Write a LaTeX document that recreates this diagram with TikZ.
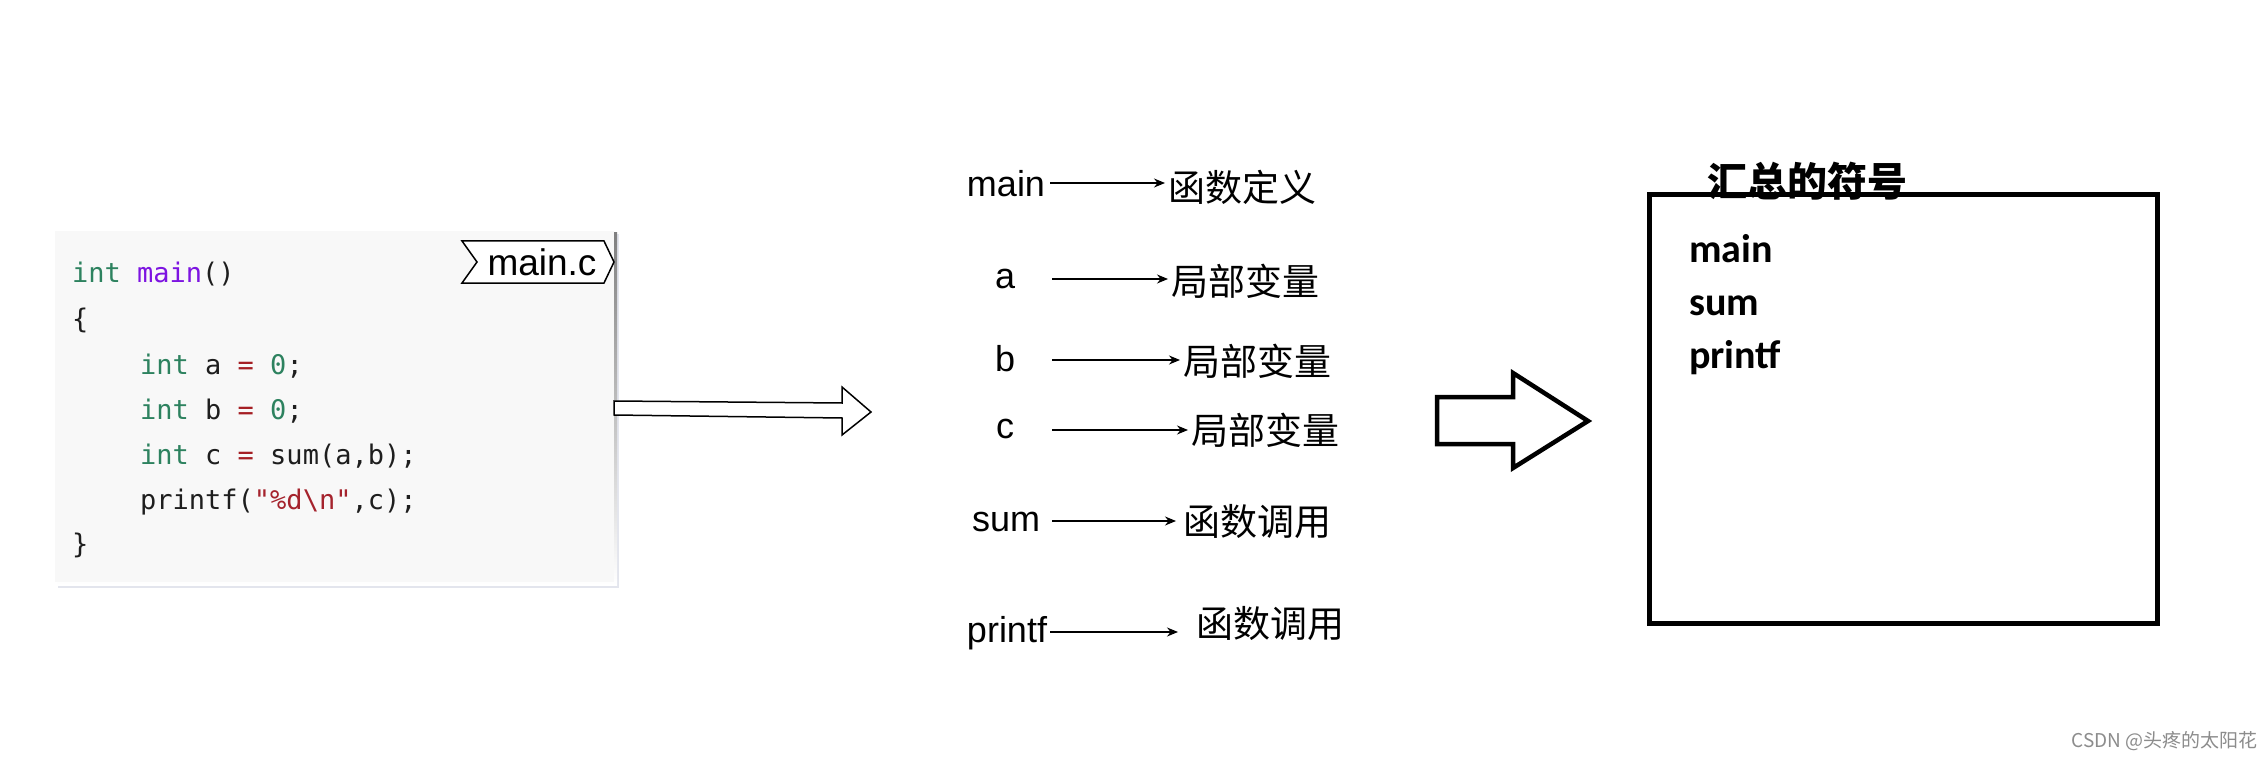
\documentclass[tikz,border=0pt]{standalone}
\usepackage{fontspec}
\setmonofont{DejaVu Sans Mono}
\newfontfamily\cjk{Noto Sans CJK SC}
\newfontfamily\arial{Liberation Sans}
\newfontfamily\carl{Carlito}
\usetikzlibrary{arrows.meta}
\definecolor{kw}{RGB}{45,130,95}
\definecolor{fn}{RGB}{125,20,225}
\definecolor{op}{RGB}{165,30,35}
\definecolor{st}{RGB}{165,35,45}
\definecolor{tx}{RGB}{30,30,30}
\definecolor{codebg}{RGB}{248,248,248}
\definecolor{shade}{RGB}{200,204,220}
\tikzset{
  code/.style={anchor=base west, inner sep=0pt, text=tx, font=\ttfamily\fontsize{27}{32}\selectfont},
  lat/.style={inner sep=0pt, font=\arial\fontsize{36}{42}\selectfont},
  cj/.style={anchor=west, inner sep=3pt, font=\cjk\fontsize{37}{44}\selectfont},
  sar/.style={line width=1.5pt, -{Stealth[length=11pt,width=9pt]}},
  bx/.style={anchor=base west, inner sep=0pt, font=\carl\bfseries\fontsize{40}{48}\selectfont},
  hollow/.style={draw=black, fill=white, line join=miter}
}
\begin{document}
\begin{tikzpicture}[x=1pt,y=-1pt]
\useasboundingbox (0,0) rectangle (2266,759);
\fill[white] (0,0) rectangle (2266,759);

% code box with shadow
\fill[shade!50] (58,234) rectangle (619,588);
\fill[shade] (57,233) rectangle (617,585);
\node[fill=codebg, minimum width=559pt, minimum height=351pt, inner sep=0pt, anchor=north west] (codebox) at (55,231) {};

\node[code] (c1) at (72,283) {\textcolor{kw}{int} \textcolor{fn}{main}()};
\node[code] (c2) at (72,328) {\{};
\node[code] (c3) at (140,374) {\textcolor{kw}{int} a \textcolor{op}{=} \textcolor{kw}{0};};
\node[code] (c4) at (140,419) {\textcolor{kw}{int} b \textcolor{op}{=} \textcolor{kw}{0};};
\node[code] (c5) at (140,464) {\textcolor{kw}{int} c \textcolor{op}{=} sum(a,b);};
\node[code] (c6) at (140,509) {printf(\textcolor{st}{"\%d\textbackslash n"},c);};
\node[code] (c7) at (72,553) {\}};

% main.c tag
\draw[hollow, line width=1.5pt] (462,241) -- (604,241) -- (614,262) -- (604,283) -- (462,283) -- (477,262) -- cycle;
\node[inner sep=0pt, font=\arial\fontsize{37}{42}\selectfont] (tag) at (542,262) {main.c};

% hollow arrow 1
\draw[hollow, line width=1.5pt] (614,401) -- (842,403) -- (842,387) -- (871,412) -- (842,435) -- (842,418) -- (614,415) -- cycle;

% middle labels
\node[lat] (m1) at (1006,184) {main};
\node[lat] (m2) at (1005,279) {a};
\node[lat] (m3) at (1005,359) {b};
\node[lat] (m4) at (1005,429) {c};
\node[lat] (m5) at (1006,522) {sum};
\node[lat] (m6) at (1007,633) {printf};

\node[cj] (d1) at (1165,187) {函数定义};
\node[cj] (d2) at (1168,281) {局部变量};
\node[cj] (d3) at (1180,361) {局部变量};
\node[cj] (d4) at (1188,430) {局部变量};
\node[cj] (d5) at (1180,522) {函数调用};
\node[cj] (d6) at (1193,624) {函数调用};

\coordinate (t1) at (1050,183);
\coordinate (t2) at (1052,279);
\coordinate (t3) at (1052,360);
\coordinate (t4) at (1052,430);
\coordinate (t5) at (1052,521);
\coordinate (t6) at (1050,632);
\draw[sar] (t1) -- (t1 -| d1.west);
\draw[sar] (t2) -- (t2 -| d2.west);
\draw[sar] (t3) -- (t3 -| d3.west);
\draw[sar] (t4) -- (t4 -| d4.west);
\draw[sar, shorten >=4pt] (t5) -- (t5 -| d5.west);
\draw[sar, shorten >=15pt] (t6) -- (t6 -| d6.west);

% hollow arrow 2
\draw[hollow, line width=4.5pt] (1437,397) -- (1513,397) -- (1513,373) -- (1588,421) -- (1513,468) -- (1513,444) -- (1437,444) -- cycle;

% summary box
\node[anchor=west, inner sep=0pt, font=\cjk\bfseries\fontsize{40}{48}\selectfont] (title) at (1707,181) {汇总的符号};
\node[draw, line width=5pt, minimum width=508pt, minimum height=428pt, inner sep=0pt] (sbox) at (1903,409) {};
\node[bx] (s1) at (1689,262) {main};
\node[bx] (s2) at (1689,315) {sum};
\node[bx] (s3) at (1689,368) {printf};

% watermark
\node[anchor=east, inner sep=0pt, text=black!45, font=\cjk\fontsize{19}{22}\selectfont] (wm) at (2258,741) {CSDN @头疼的太阳花};
\end{tikzpicture}
\end{document}
